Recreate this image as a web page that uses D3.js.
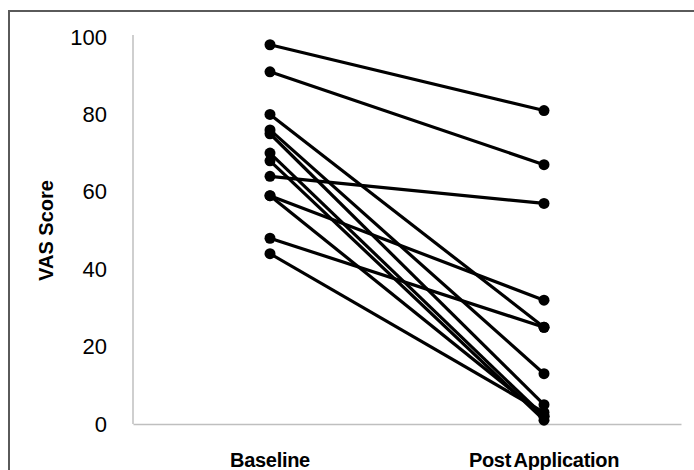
<!DOCTYPE html>
<html>
<head>
<meta charset="utf-8">
<script src="https://cdn.jsdelivr.net/npm/d3@7"></script>
<style>
	body { margin: 0; background: #fff; }
	text { font-family: "Liberation Sans", Arial, sans-serif; }
</style>
</head>
<body>
<div id="chart"></div>
<script>
// categories and paired subject scores
const categories = ['Baseline', 'Post Application'];
const baseline = [98, 91, 80, 76, 75, 70, 68, 64, 59, 59, 48, 44];
const post     = [81, 67, 25, 13,  5,  2,  1, 57, 32,  2, 25,  3];
const yTicks = [0, 20, 40, 60, 80, 100];

const width = 694, height = 470;
const m = { left: 133, right: 13, top: 37, bottom: 46 };

const svg = d3.select('#chart').append('svg')
	.attr('width', width)
	.attr('height', height);

//outer frame
svg.append('rect')
	.attr('x', 9).attr('y', 11)
	.attr('width', width + 20).attr('height', height + 20)
	.attr('fill', 'none')
	.attr('stroke', '#5a5a5a')
	.attr('stroke-width', 2);

const x = d3.scaleBand()
	.domain(categories)
	.range([m.left, width - m.right]);

const y = d3.scaleLinear()
	.domain([0, 100])
	.range([height - m.bottom, m.top]);

//axes
const yAxis = svg.append('g')
	.attr('transform', 'translate(' + m.left + ',0)')
	.attr('font-size', 22)
	.call(d3.axisLeft(y).tickValues(yTicks).tickSize(0).tickPadding(26));
yAxis.attr('font-size', 22).attr('font-family', null);
yAxis.select('.domain').attr('stroke', '#bfbfbf').attr('stroke-width', 1.5)
	.attr('d', 'M0,' + (y(100) - 2) + 'V' + y(0));
yAxis.selectAll('text')
	.attr('fill', '#000');

const xAxis = svg.append('g')
	.attr('transform', 'translate(0,' + y(0) + ')')
	.call(d3.axisBottom(x).tickSize(0).tickPadding(29));
xAxis.attr('font-size', 20).attr('font-family', null);
xAxis.select('.domain').attr('stroke', '#bfbfbf').attr('stroke-width', 1.5);
xAxis.selectAll('text')
	.style('font-weight', 'bold')
	.style('word-spacing', '-2px')
	.style('letter-spacing', '-0.3px')
	.attr('fill', '#000');

svg.append('text')
	.attr('transform', 'translate(53,' + y(50) + ') rotate(-90)')
	.attr('text-anchor', 'middle')
	.style('font-size', '20px')
	.style('font-weight', 'bold')
	.text('VAS Score');

//paired lines
const pairs = baseline.map((b, i) => [b, post[i]]);
const cx = c => x(c) + x.bandwidth() / 2;

svg.append('g').selectAll('line')
	.data(pairs)
	.join('line')
	.attr('x1', cx(categories[0]))
	.attr('x2', cx(categories[1]))
	.attr('y1', d => y(d[0]))
	.attr('y2', d => y(d[1]))
	.attr('stroke', '#000')
	.attr('stroke-width', 3.2);

const dots = svg.append('g');
categories.forEach((c, k) => {
	dots.selectAll('.dot' + k)
		.data(pairs)
		.join('circle')
		.attr('class', 'dot' + k)
		.attr('cx', cx(c))
		.attr('cy', d => y(d[k]))
		.attr('r', 5.5)
		.attr('fill', '#000');
});
</script>
</body>
</html>
